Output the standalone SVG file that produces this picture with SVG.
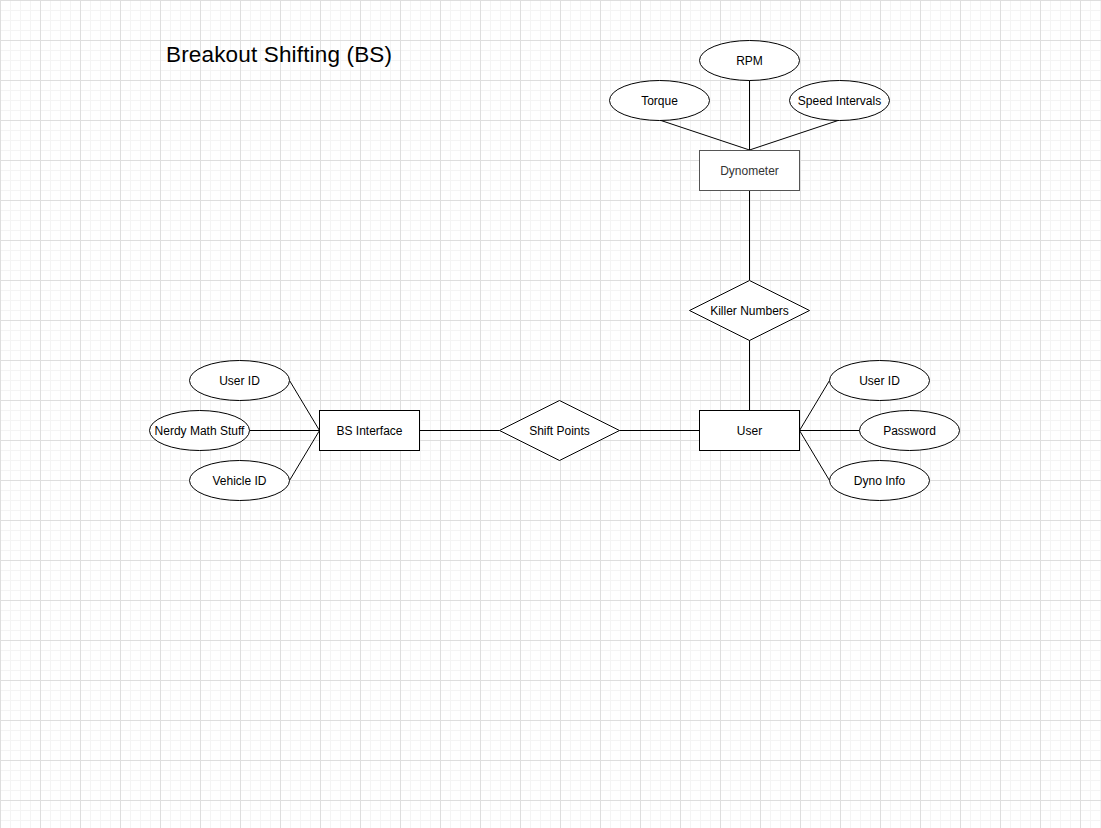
<svg xmlns="http://www.w3.org/2000/svg" width="1101" height="828" viewBox="0 0 1101 828">
<style>
.shape{fill:#ffffff;stroke:#000000;stroke-width:1}
.gray{fill:#ffffff;stroke:#555555;stroke-width:1}
.lbl{font-family:"Liberation Sans",Arial,Helvetica,sans-serif;font-size:12px;fill:#000000;text-anchor:middle;dominant-baseline:central}
.lblg{fill:#333333}
.conn line{stroke:#000000;stroke-width:1}
</style>
<defs>
<pattern id="grid" x="0" y="0" width="40" height="40" patternUnits="userSpaceOnUse">
<rect x="0" y="0" width="40" height="40" fill="#ffffff"/>
<path d="M10.5 0V40M20.5 0V40M30.5 0V40M0 10.5H40M0 20.5H40M0 30.5H40" fill="none" stroke="#f4f4f4" stroke-width="1"/>
<path d="M0.5 0V40M0 0.5H40" fill="none" stroke="#dedede" stroke-width="1"/>
</pattern>
</defs>
<rect x="0" y="0" width="1101" height="828" fill="url(#grid)"/>

<text x="166" y="62" font-family="'Liberation Sans',Arial,Helvetica,sans-serif" font-size="22.5" textLength="226" fill="#000000">Breakout Shifting (BS)</text>

<g id="connectors" class="conn">
<line x1="659.5" y1="120" x2="749.5" y2="150"/>
<line x1="749.5" y1="80" x2="749.5" y2="150"/>
<line x1="839.5" y1="120" x2="749.5" y2="150"/>
<line x1="749.5" y1="190" x2="749.5" y2="280"/>
<line x1="749.5" y1="340" x2="749.5" y2="410"/>
<line x1="419.5" y1="430.5" x2="499.5" y2="430.5"/>
<line x1="619.5" y1="430.5" x2="699.5" y2="430.5"/>
<line x1="289.5" y1="380.5" x2="319.5" y2="430.5"/>
<line x1="249.5" y1="430.5" x2="319.5" y2="430.5"/>
<line x1="289.5" y1="480.5" x2="319.5" y2="430.5"/>
<line x1="799.5" y1="430.5" x2="829.5" y2="380.5"/>
<line x1="799.5" y1="430.5" x2="859.5" y2="430.5"/>
<line x1="799.5" y1="430.5" x2="829.5" y2="480.5"/>
</g>

<g id="rpm"><ellipse class="shape" cx="749.5" cy="60.5" rx="50" ry="20"/><text class="lbl" x="749.5" y="60.5">RPM</text></g>
<g id="torque"><ellipse class="shape" cx="659.5" cy="100.5" rx="50" ry="20"/><text class="lbl" x="659.5" y="100.5">Torque</text></g>
<g id="speed-intervals"><ellipse class="shape" cx="839.5" cy="100.5" rx="50" ry="20"/><text class="lbl" x="839.5" y="100.5">Speed Intervals</text></g>
<g id="dynometer"><rect class="gray" x="699.5" y="150.5" width="100" height="40"/><text class="lbl lblg" x="749.5" y="170.5">Dynometer</text></g>
<g id="killer-numbers"><polygon class="shape" points="749.5,280.5 809.5,310.5 749.5,340.5 689.5,310.5"/><text class="lbl" x="749.5" y="310.5">Killer Numbers</text></g>
<g id="user"><rect class="shape" x="699.5" y="410.5" width="100" height="40"/><text class="lbl" x="749.5" y="430.5">User</text></g>
<g id="shift-points"><polygon class="shape" points="559.5,400.5 619.5,430.5 559.5,460.5 499.5,430.5"/><text class="lbl" x="559.5" y="430.5">Shift Points</text></g>
<g id="bs-interface"><rect class="shape" x="319.5" y="410.5" width="100" height="40"/><text class="lbl" x="369.5" y="430.5">BS Interface</text></g>
<g id="bs-user-id"><ellipse class="shape" cx="239.5" cy="380.5" rx="50" ry="20"/><text class="lbl" x="239.5" y="380.5">User ID</text></g>
<g id="nerdy-math-stuff"><ellipse class="shape" cx="199.5" cy="430.5" rx="50" ry="20"/><text class="lbl" x="199.5" y="430.5">Nerdy Math Stuff</text></g>
<g id="vehicle-id"><ellipse class="shape" cx="239.5" cy="480.5" rx="50" ry="20"/><text class="lbl" x="239.5" y="480.5">Vehicle ID</text></g>
<g id="user-user-id"><ellipse class="shape" cx="879.5" cy="380.5" rx="50" ry="20"/><text class="lbl" x="879.5" y="380.5">User ID</text></g>
<g id="password"><ellipse class="shape" cx="909.5" cy="430.5" rx="50" ry="20"/><text class="lbl" x="909.5" y="430.5">Password</text></g>
<g id="dyno-info"><ellipse class="shape" cx="879.5" cy="480.5" rx="50" ry="20"/><text class="lbl" x="879.5" y="480.5">Dyno Info</text></g>
</svg>
